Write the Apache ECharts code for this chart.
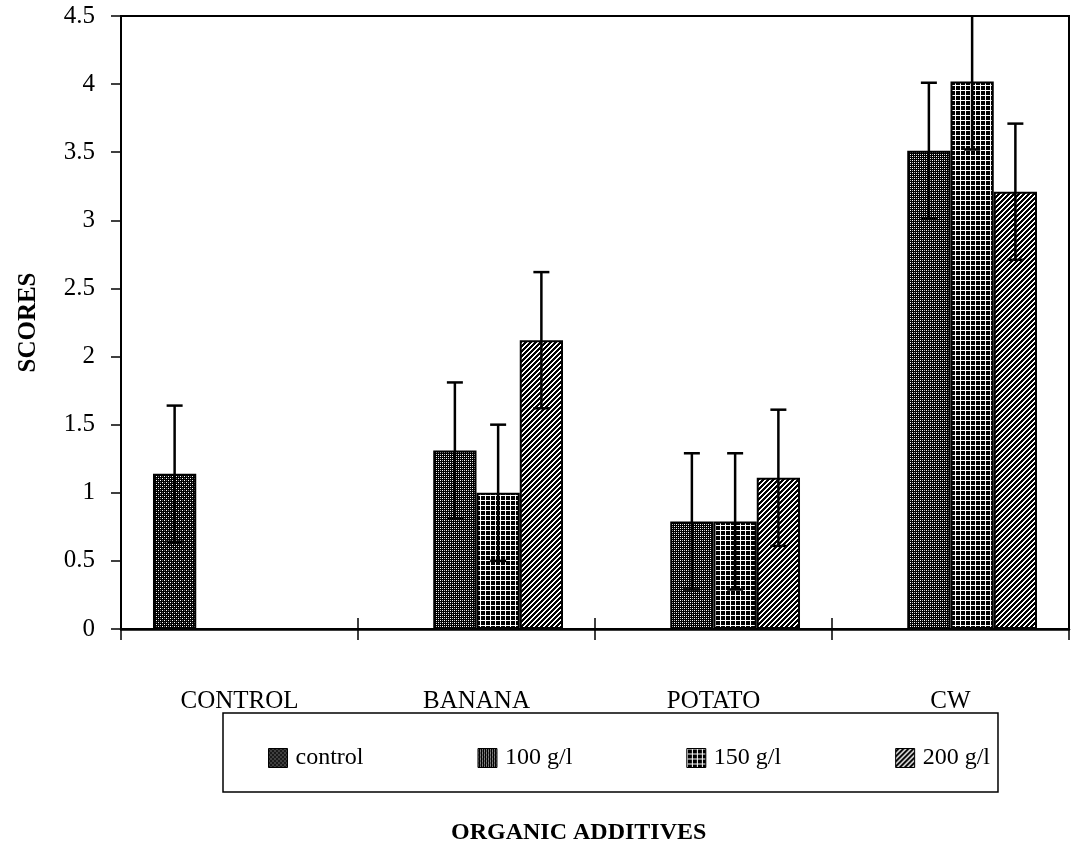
<!DOCTYPE html>
<html>
<head>
<meta charset="utf-8">
<script src="https://cdn.jsdelivr.net/npm/echarts@6/dist/echarts.min.js"></script>
<style>
  html, body { margin: 0; padding: 0; background: #fff; }
  #chart { width: 1071px; height: 843px; }
</style>
</head>
<body>
<div id="chart"></div>
<script>
// Scores by organic additive and concentration (mean ± error)
const categories = ['CONTROL', 'BANANA', 'POTATO', 'CW'];
const seriesNames = ['control', '100 g/l', '150 g/l', '200 g/l'];

const controlScores = [1.14, null, null, null];
const scores100 = [null, 1.31, 0.79, 3.51];
const scores150 = [null, 1.00, 0.79, 4.02];
const scores200 = [null, 2.12, 1.11, 3.21];

const controlErr = [0.5, null, null, null];
const err100 = [null, 0.5, 0.5, 0.5];
const err150 = [null, 0.5, 0.5, 0.5];
const err200 = [null, 0.5, 0.5, 0.5];

const yMin = 0, yMax = 4.5, yStep = 0.5;

const SERIF = '"Liberation Serif", "DejaVu Serif", serif';
const GAP = 0.27; // barCategoryGap as a fraction

// Monochrome fill patterns drawn on small tiles
function tile(size, draw) {
  const c = document.createElement('canvas');
  c.width = size; c.height = size;
  const g = c.getContext('2d');
  g.fillStyle = '#000';
  g.fillRect(0, 0, size, size);
  draw(g);
  return { image: c, repeat: 'repeat' };
}
function dot(g, color, x, y) { g.fillStyle = color; g.fillRect(x, y, 1, 1); }

const patterns = [
  // control: dark dotted
  tile(4, g => { dot(g, '#fff', 0, 0); dot(g, '#fff', 2, 2); dot(g, '#666', 2, 0); dot(g, '#666', 0, 2); }),
  // 100 g/l: lighter dotted
  tile(4, g => { dot(g, '#fff', 0, 0); dot(g, '#fff', 2, 2); dot(g, '#bbb', 2, 0); dot(g, '#bbb', 0, 2); }),
  // 150 g/l: white grid on black
  tile(5, g => { g.fillStyle = '#fff'; g.fillRect(0, 0, 5, 1); g.fillRect(0, 0, 1, 5); }),
  // 200 g/l: diagonal hatch
  tile(5, g => { for (let i = 0; i < 5; i++) { dot(g, '#fff', i, 4 - i); dot(g, '#fff', (i + 1) % 5, 4 - i); } })
];

const values = [controlScores, scores100, scores150, scores200];
const errors = [controlErr, err100, err150, err200];

const barSeries = seriesNames.map((name, s) => ({
  name,
  type: 'bar',
  data: values[s],
  barGap: '0%',
  barCategoryGap: (GAP * 100) + '%',
  itemStyle: { color: patterns[s], borderColor: '#000', borderWidth: 2 },
  emphasis: { disabled: true },
  z: 2
}));

const errorSeries = seriesNames.map((name, s) => ({
  name: name + ' error',
  type: 'custom',
  clip: true,
  z: 5,
  silent: true,
  data: values[s].map((v, i) => v == null ? null : [i, v, errors[s][i]]).filter(d => d),
  encode: { x: 0, y: 1 },
  renderItem: function (params, api) {
    const cat = api.value(0), v = api.value(1), e = api.value(2);
    const band = api.size([1, 0])[0];
    const bw = band * (1 - GAP) / seriesNames.length;
    const x = api.coord([cat, v])[0] + (s - (seriesNames.length - 1) / 2) * bw;
    const top = api.coord([cat, v + e])[1];
    const bot = api.coord([cat, v - e])[1];
    const cap = 8;
    const st = { stroke: '#000', lineWidth: 2.5 };
    return {
      type: 'group',
      children: [
        { type: 'line', shape: { x1: x, y1: top, x2: x, y2: bot }, style: st },
        { type: 'line', shape: { x1: x - cap, y1: top, x2: x + cap, y2: top }, style: st },
        { type: 'line', shape: { x1: x - cap, y1: bot, x2: x + cap, y2: bot }, style: st }
      ]
    };
  }
}));

const chart = echarts.init(document.getElementById('chart'), null, { renderer: 'canvas' });
chart.setOption({
  backgroundColor: '#fff',
  animation: false,
  title: {
    text: 'ORGANIC ADDITIVES',
    left: 446,
    top: 816,
    textStyle: { fontFamily: SERIF, fontSize: 24, fontWeight: 'bold', color: '#000' }
  },
  legend: {
    data: seriesNames,
    left: 223,
    top: 713,
    orient: 'horizontal',
    icon: 'rect',
    itemWidth: 19,
    itemHeight: 19,
    itemGap: 114,
    padding: [33, 8, 22, 45],
    borderColor: '#000',
    borderWidth: 1.5,
    selectedMode: false,
    itemStyle: { borderColor: '#000', borderWidth: 1 },
    textStyle: { fontFamily: SERIF, fontSize: 24, color: '#000', padding: [0, 0, 0, 3] }
  },
  grid: {
    left: 121, right: 2, top: 16, bottom: 214,
    show: true, borderColor: '#000', borderWidth: 2
  },
  xAxis: [{
    type: 'category',
    data: categories,
    axisLine: { lineStyle: { color: '#000', width: 2.5 } },
    axisTick: { show: true, interval: 0, length: 11, lineStyle: { color: '#000', width: 1.5 } },
    axisLabel: { interval: 0, margin: 60, color: '#000', fontFamily: SERIF, fontSize: 25 },
    splitLine: { show: false }
  }, {
    type: 'category',
    data: categories,
    position: 'bottom',
    axisLine: { show: false },
    axisTick: { show: true, inside: true, interval: 0, length: 11, lineStyle: { color: '#000', width: 1.5 } },
    axisLabel: { show: false },
    splitLine: { show: false }
  }],
  yAxis: {
    type: 'value',
    min: yMin, max: yMax, interval: yStep,
    name: 'SCORES',
    nameLocation: 'middle',
    nameRotate: 90,
    nameGap: 80,
    nameTextStyle: { fontFamily: SERIF, fontSize: 25, fontWeight: 'bold', color: '#000' },
    axisLine: { show: true, lineStyle: { color: '#000', width: 2 } },
    axisTick: { show: true, length: 10, lineStyle: { color: '#000', width: 1.5 } },
    axisLabel: { margin: 26, color: '#000', fontFamily: SERIF, fontSize: 25 },
    splitLine: { show: false }
  },
  series: barSeries.concat(errorSeries)
});
</script>
</body>
</html>
